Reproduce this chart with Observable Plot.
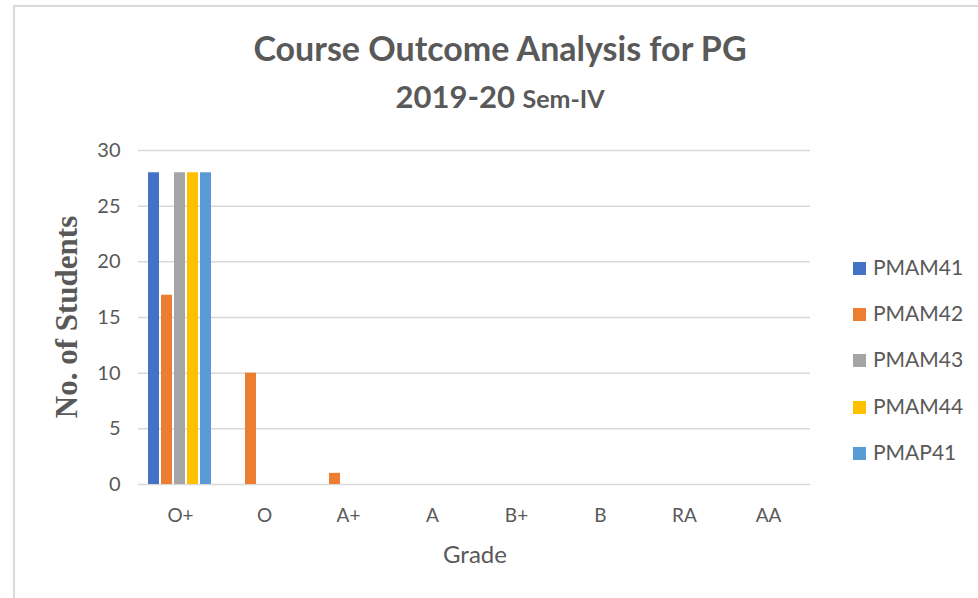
<!DOCTYPE html>
<html>
<head>
<meta charset="utf-8">
<script src="https://cdn.jsdelivr.net/npm/d3@7"></script>
<script src="https://cdn.jsdelivr.net/npm/@observablehq/plot@0.6"></script>
<style>
  body { margin: 0; background: #fff; }
  #wrap { position: relative; width: 978px; height: 598px; overflow: hidden; font-family: Lato, "Open Sans", sans-serif; color: #595959; }
  #border { position: absolute; left: 13px; top: 5px; width: 2000px; height: 2000px; border-left: 2px solid #d9d9d9; border-top: 2px solid #d9d9d9; }
  #title { position: absolute; left: 0; width: 1000px; top: 26px; text-align: center; font-weight: bold; color: #595959; }
  #t1 { font-size: 34px; line-height: 44px; }
  #t2 { font-size: 31px; line-height: 44px; margin-top: 4px; }
  #t2 span { font-size: 25px; }
  #ylab { position: absolute; left: 67px; top: 317px; transform: translate(-50%, -50%) rotate(-90deg); font-family: "Liberation Serif", "DejaVu Serif", serif; font-weight: bold; font-size: 31px; white-space: nowrap; color: #595959; }
  #xlab { position: absolute; left: 475px; top: 553px; transform: translate(-50%, -50%); font-size: 24px; color: #595959; }
  #legend { position: absolute; left: 853px; top: 254px; }
  .li { height: 46.2px; display: flex; align-items: flex-start; font-size: 21px; }
  .sw { width: 13px; height: 13px; margin-top: 8px; margin-right: 7px; }
  #chart { position: absolute; left: 0; top: 0; }
</style>
</head>
<body>
<div id="wrap">
  <div id="border"></div>
  <div id="chart"></div>
  <div id="title"><div id="t1">Course Outcome Analysis for PG</div><div id="t2">2019-20 <span>Sem-IV</span></div></div>
  <div id="ylab">No. of Students</div>
  <div id="xlab">Grade</div>
  <div id="legend"></div>
</div>
<script>
const grades = ["O+", "O", "A+", "A", "B+", "B", "RA", "AA"];
const subjects = ["PMAM41", "PMAM42", "PMAM43", "PMAM44", "PMAP41"];
const PMAM41 = [28, 0, 0, 0, 0, 0, 0, 0];
const PMAM42 = [17, 10, 1, 0, 0, 0, 0, 0];
const PMAM43 = [28, 0, 0, 0, 0, 0, 0, 0];
const PMAM44 = [28, 0, 0, 0, 0, 0, 0, 0];
const PMAP41 = [28, 0, 0, 0, 0, 0, 0, 0];
const yTicks = [0, 5, 10, 15, 20, 25, 30];
const colors = ["#4472C4", "#ED7D31", "#A5A5A5", "#FFC000", "#5B9BD5"];

const series = [PMAM41, PMAM42, PMAM43, PMAM44, PMAP41];
const data = [];
subjects.forEach((s, i) => grades.forEach((g, j) => data.push({subject: s, grade: g, value: series[i][j]})));

const plot = Plot.plot({
  width: 978,
  height: 598,
  marginLeft: 138,
  marginRight: 168,
  marginTop: 150,
  marginBottom: 114,
  style: {color: "#595959", fontFamily: "Lato, 'Open Sans', sans-serif", background: "transparent"},
  fx: {domain: grades, padding: 0},
  x: {domain: subjects, paddingInner: 0.15, paddingOuter: 0.8, axis: null},
  y: {domain: [0, 30]},
  color: {domain: subjects, range: colors},
  marks: [
    Plot.ruleY(yTicks, {stroke: "#d9d9d9", strokeWidth: 1.5}),
    Plot.barY(data, {fx: "grade", x: "subject", y: "value", fill: "subject", inset: 0}),
    Plot.axisY(yTicks, {tickSize: 0, tickPadding: 18, fontSize: 20, label: null}),
    Plot.axisFx({anchor: "bottom", tickSize: 0, tickPadding: 24, fontSize: 19, label: null})
  ]
});
document.getElementById("chart").appendChild(plot);

const leg = document.getElementById("legend");
subjects.forEach((s, i) => {
  const row = document.createElement("div");
  row.className = "li";
  const sw = document.createElement("div");
  sw.className = "sw";
  sw.style.background = colors[i];
  const t = document.createElement("div");
  t.textContent = s;
  row.appendChild(sw); row.appendChild(t);
  leg.appendChild(row);
});
</script>
</body>
</html>
